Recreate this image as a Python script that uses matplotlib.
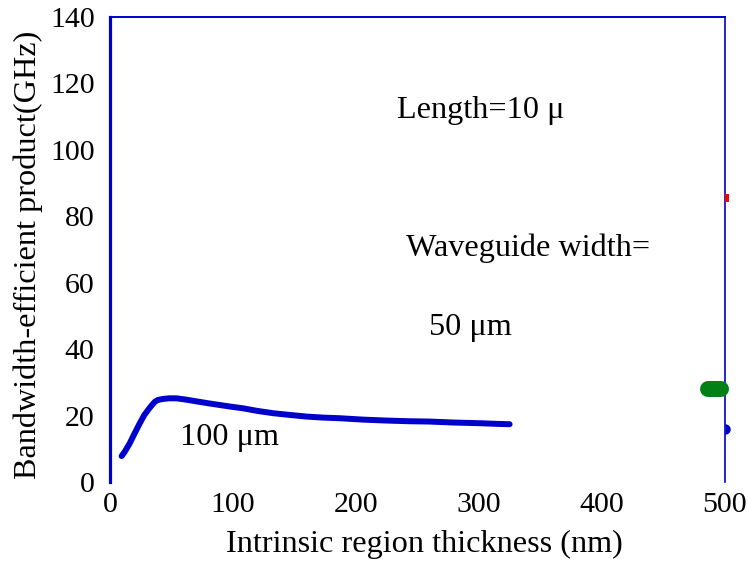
import matplotlib
matplotlib.use("Agg")
import matplotlib.pyplot as plt

plt.rcParams['font.family'] = ['Liberation Serif', 'DejaVu Serif']

# Bandwidth-efficiency product vs intrinsic region thickness (100 um waveguide)
thickness_nm = [9.5, 12, 16, 20, 24.4, 28, 31, 34, 36.6, 39, 43, 48, 54, 62,
                70, 80, 89, 98, 108, 120, 133, 146, 160, 173, 187, 205, 225,
                243, 260, 280, 301, 315, 325]
bep_ghz = [7.8, 9.1, 11.6, 14.6, 17.8, 20.2, 21.7, 23.1, 24.2, 24.7, 25.0,
           25.2, 25.2, 24.8, 24.3, 23.7, 23.2, 22.7, 22.2, 21.4, 20.7, 20.2,
           19.7, 19.4, 19.2, 18.8, 18.5, 18.3, 18.2, 17.9, 17.7, 17.5, 17.4]

# Other waveguide widths, only their edges fall inside the plotted range
green_x = [486, 497]
green_y = [28, 28]
blue_pt_x = [500]
blue_pt_y = [16]
red_pt_x = [500]
red_pt_y = [85.5]

x_ticks = [0, 100, 200, 300, 400, 500]
y_ticks = [0, 20, 40, 60, 80, 100, 120, 140]

BLUE = '#0000cc'
TICK_FS = 21.5
FS = 23.2

fig = plt.figure(figsize=(7.48, 5.61), dpi=100)
ax = fig.add_axes([0.147, 0.1408, 0.822, 0.8289])

ax.plot(thickness_nm, bep_ghz, color=BLUE, lw=4.3, solid_capstyle='round',
        solid_joinstyle='round')
ax.plot(green_x, green_y, color='#008015', lw=11.5, solid_capstyle='round',
        clip_on=False, zorder=3)
ax.plot(blue_pt_x, blue_pt_y, 'o', color=BLUE, ms=7.5, fillstyle='right',
        markeredgewidth=0, clip_on=False, zorder=3)
ax.plot(red_pt_x, red_pt_y, 's', color='#ff0000', ms=6, fillstyle='right',
        markeredgewidth=0, clip_on=False, zorder=3)

ax.set_xlim(0, 500)
ax.set_ylim(0, 140)
ax.set_xticks(x_ticks)
ax.set_yticks(y_ticks)
ax.tick_params(length=0, labelsize=TICK_FS)
ax.tick_params(axis='y', pad=11)
ax.tick_params(axis='x', pad=7)

ax.spines['bottom'].set_visible(False)
ax.spines['left'].set_color(BLUE)
ax.spines['left'].set_linewidth(2.3)
ax.spines['top'].set_color(BLUE)
ax.spines['top'].set_linewidth(1.4)
ax.spines['right'].set_color(BLUE)
ax.spines['right'].set_linewidth(1.2)

ax.set_xlabel('Intrinsic region thickness (nm)', fontsize=FS, labelpad=9)
ax.set_ylabel('Bandwidth-efficient product(GHz)', fontsize=FS, labelpad=5)
ax.xaxis.label.set_x(0.512)
ax.yaxis.label.set_y(0.488)

ax.text(233.8, 109.5, 'Length=10 \u03bc', fontsize=FS, va='baseline')
ax.text(240.6, 67.9, 'Waveguide width=', fontsize=FS, va='baseline')
ax.text(259.6, 44.3, '50 \u03bcm', fontsize=FS, va='baseline')
ax.text(57, 11.1, '100 \u03bcm', fontsize=FS, va='baseline')

fig.savefig('out.png', dpi=100)
